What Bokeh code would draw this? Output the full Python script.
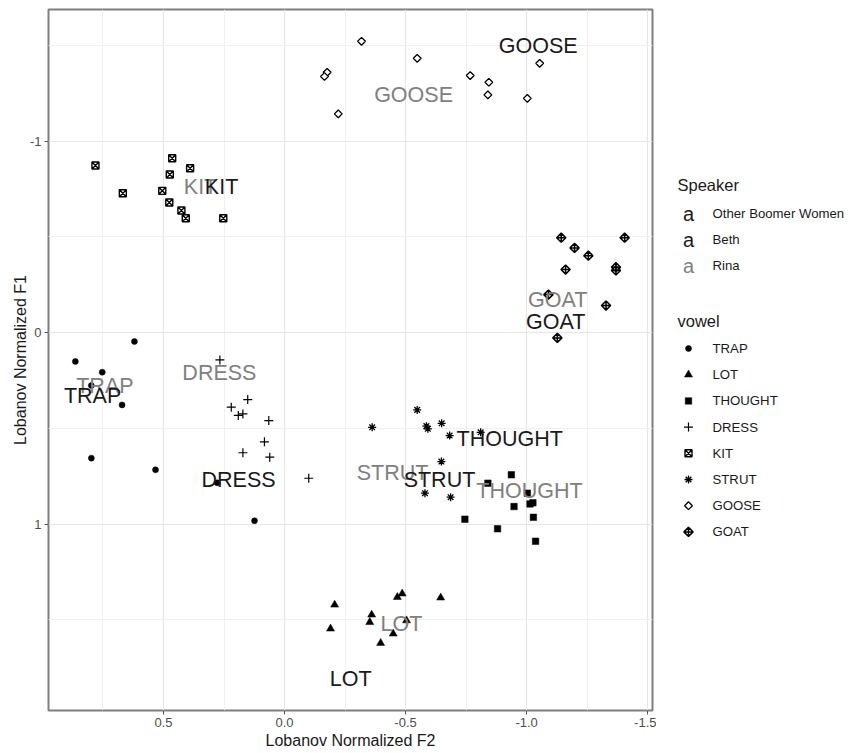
import math
from bokeh.plotting import figure
from bokeh.models import Range1d, FixedTicker, CustomJSTickFormatter
from bokeh.layouts import row
from bokeh.embed import file_html
from bokeh.resources import INLINE
from bokeh.core.properties import value

FONT = "Liberation Sans"

# ---------------- data (Lobanov normalized F2, F1) ----------------
vowels = ["TRAP", "LOT", "THOUGHT", "DRESS", "KIT", "STRUT", "GOOSE", "GOAT"]

trap_f2 = [0.864, 0.753, 0.798, 0.620, 0.671, 0.798, 0.533, 0.278, 0.124]
trap_f1 = [0.151, 0.207, 0.277, 0.047, 0.378, 0.656, 0.717, 0.785, 0.983]

lot_f2 = [-0.207, -0.190, -0.360, -0.352, -0.397, -0.449, -0.466, -0.486, -0.504, -0.645]
lot_f1 = [1.422, 1.547, 1.474, 1.513, 1.622, 1.573, 1.382, 1.364, 1.504, 1.385]

thought_f2 = [-0.840, -0.937, -1.003, -0.948, -1.014, -1.026, -1.028, -0.745, -0.880, -1.037]
thought_f1 = [0.787, 0.743, 0.839, 0.909, 0.895, 0.889, 0.965, 0.975, 1.025, 1.090]

dress_f2 = [0.267, 0.152, 0.220, 0.191, 0.172, 0.065, 0.083, 0.172, 0.061, -0.100]
dress_f1 = [0.143, 0.350, 0.390, 0.433, 0.425, 0.460, 0.571, 0.628, 0.651, 0.761]

kit_f2 = [0.781, 0.668, 0.464, 0.474, 0.390, 0.505, 0.476, 0.426, 0.408, 0.253]
kit_f1 = [-0.872, -0.727, -0.910, -0.825, -0.858, -0.740, -0.679, -0.637, -0.597, -0.597]

strut_f2 = [-0.548, -0.362, -0.586, -0.592, -0.649, -0.682, -0.810, -0.648, -0.580, -0.686]
strut_f1 = [0.404, 0.495, 0.489, 0.503, 0.474, 0.538, 0.521, 0.674, 0.839, 0.860]

goose_f2 = [-0.318, -0.548, -0.176, -0.165, -0.222, -0.767, -0.844, -0.840, -1.003, -1.054]
goose_f1 = [-1.521, -1.432, -1.359, -1.337, -1.142, -1.342, -1.307, -1.241, -1.223, -1.406]

goat_f2 = [-1.143, -1.405, -1.198, -1.255, -1.161, -1.369, -1.369, -1.090, -1.328, -1.127]
goat_f1 = [-0.495, -0.495, -0.442, -0.401, -0.329, -0.341, -0.324, -0.198, -0.141, 0.028]

# speaker label positions (same vowel order)
beth_f2 = [0.793, -0.273, -0.930, 0.190, 0.260, -0.640, -1.048, -1.120]
beth_f1 = [0.334, 1.812, 0.554, 0.768, -0.762, 0.768, -1.494, -0.057]
rina_f2 = [0.742, -0.483, -1.012, 0.269, 0.347, -0.446, -0.533, -1.128]
rina_f1 = [0.277, 1.520, 0.830, 0.214, -0.762, 0.736, -1.238, -0.172]

speakers = ["Other Boomer Women", "Beth", "Rina"]
speaker_colors = ["#1a1a1a", "#1a1a1a", "#808080"]

x_ticks = [0.5, 0.0, -0.5, -1.0, -1.5]
x_minor = [0.75, 0.25, -0.25, -0.75, -1.25]
y_ticks = [-1, 0, 1]
y_minor = [-1.5, -0.5, 0.5, 1.5]

vowel_data = {
    "TRAP": (trap_f2, trap_f1),
    "LOT": (lot_f2, lot_f1),
    "THOUGHT": (thought_f2, thought_f1),
    "DRESS": (dress_f2, dress_f1),
    "KIT": (kit_f2, kit_f1),
    "STRUT": (strut_f2, strut_f1),
    "GOOSE": (goose_f2, goose_f1),
    "GOAT": (goat_f2, goat_f1),
}

# marker styles (ggplot shapes 16,17,15,3,7,8,5,9)
styles = {
    "TRAP": dict(marker="circle", size=6, fill_color="black", line_color="black", line_width=0.5),
    "LOT": dict(marker="triangle", size=8, fill_color="black", line_color="black", line_width=0.5),
    "THOUGHT": dict(marker="square", size=6.5, fill_color="black", line_color="black", line_width=0.5),
    "DRESS": dict(marker="cross", size=9, fill_color=None, line_color="black", line_width=1.2),
    "KIT": dict(marker="square_x", size=7, fill_color=None, line_color="black", line_width=1.4),
    "STRUT": dict(marker="asterisk", size=8, fill_color=None, line_color="black", line_width=1.3),
    "GOOSE": dict(marker="square", size=5.5, angle=math.pi / 4, fill_color="white", line_color="black", line_width=1.3),
    "GOAT": dict(marker="square_x", size=6.5, angle=math.pi / 4, fill_color=None, line_color="black", line_width=1.5),
}

# ---------------- main figure ----------------
W, H = 656, 752
p = figure(width=W, height=H, output_backend="svg", toolbar_location=None,
           x_range=Range1d(0.975, -1.52), y_range=Range1d(1.974, -1.687),
           min_border_left=48, min_border_right=4, min_border_top=9, min_border_bottom=42)

p.background_fill_color = "white"
p.border_fill_color = "white"
p.outline_line_color = "#7f7f7f"
p.outline_line_width = 2

p.xaxis.ticker = FixedTicker(ticks=x_ticks, minor_ticks=x_minor)
p.yaxis.ticker = FixedTicker(ticks=y_ticks, minor_ticks=y_minor)
p.xaxis.formatter = CustomJSTickFormatter(code="return tick.toFixed(1);")
p.yaxis.formatter = CustomJSTickFormatter(code="return tick.toFixed(0);")

p.xaxis.axis_label = "Lobanov Normalized F2"
p.yaxis.axis_label = "Lobanov Normalized F1"
for ax in (p.xaxis, p.yaxis):
    ax.axis_line_color = None
    ax.major_tick_line_color = "#555555"
    ax.major_tick_line_width = 1
    ax.major_tick_out = 4
    ax.major_tick_in = 0
    ax.minor_tick_line_color = None
    ax.major_label_text_font = FONT
    ax.major_label_text_font_size = "13px"
    ax.major_label_text_color = "#4d4d4d"
    ax.major_label_standoff = 3
    ax.axis_label_text_font = FONT
    ax.axis_label_text_font_size = "16px"
    ax.axis_label_text_font_style = "normal"
    ax.axis_label_text_color = "#1a1a1a"
    ax.axis_label_standoff = 2
p.yaxis.major_label_orientation = "horizontal"
p.yaxis.axis_label_standoff = -2

p.xgrid.grid_line_color = "#e6e6e6"
p.ygrid.grid_line_color = "#e6e6e6"
p.xgrid.grid_line_width = 1.2
p.ygrid.grid_line_width = 1.2
p.xgrid.minor_grid_line_color = "#f0f0f0"
p.ygrid.minor_grid_line_color = "#f0f0f0"
p.xgrid.minor_grid_line_width = 1
p.ygrid.minor_grid_line_width = 1

for v in vowels:
    f2, f1 = vowel_data[v]
    p.scatter(x=f2, y=f1, **styles[v])

p.text(x=rina_f2, y=rina_f1, text=vowels, text_font=value(FONT), text_font_size="21.5px",
       text_align="center", text_baseline="middle", text_color=speaker_colors[2])
p.text(x=beth_f2, y=beth_f1, text=vowels, text_font=value(FONT), text_font_size="21.5px",
       text_align="center", text_baseline="middle", text_color=speaker_colors[1])

# ---------------- legend panel ----------------
# frame of this panel is aligned with the main frame (page y 9..710); coordinates below are page pixels
LW = 194
lg = figure(width=LW, height=H, output_backend="svg", toolbar_location=None,
            x_range=Range1d(W, W + LW), y_range=Range1d(710, 9), min_border=0)
lg.axis.visible = False
lg.grid.visible = False
lg.outline_line_color = None
lg.background_fill_color = "white"
lg.border_fill_color = "white"

title_x, key_x, lab_x = 677, 688, 712
sp_title_y, sp_y0, sp_step = 184, 213, 26
vw_title_y, vw_y0, vw_step = 320, 348, 26.2

lg.text(x=[title_x], y=[sp_title_y], text=["Speaker"], text_font=value(FONT), text_font_size="16.5px",
        text_baseline="middle", text_color="#1a1a1a")
sp_y = [sp_y0 + i * sp_step for i in range(len(speakers))]
lg.text(x=[key_x] * len(speakers), y=sp_y, text=["a"] * len(speakers), text_font=value(FONT),
        text_font_size="20px", text_align="center", text_baseline="middle",
        text_color=speaker_colors)
lg.text(x=[lab_x] * len(speakers), y=sp_y, text=speakers, text_font=value(FONT), text_font_size="13.2px",
        text_baseline="middle", text_color="#1a1a1a")

lg.text(x=[title_x], y=[vw_title_y], text=["vowel"], text_font=value(FONT), text_font_size="16.5px",
        text_baseline="middle", text_color="#1a1a1a")
for i, v in enumerate(vowels):
    yy = vw_y0 + i * vw_step
    lg.scatter(x=[key_x], y=[yy], **styles[v])
lg.text(x=[lab_x] * len(vowels), y=[vw_y0 + i * vw_step for i in range(len(vowels))], text=vowels,
        text_font=value(FONT), text_font_size="13.2px", text_baseline="middle", text_color="#1a1a1a")

layout = row(p, lg)
open("out.html", "w").write(file_html(layout, INLINE))
